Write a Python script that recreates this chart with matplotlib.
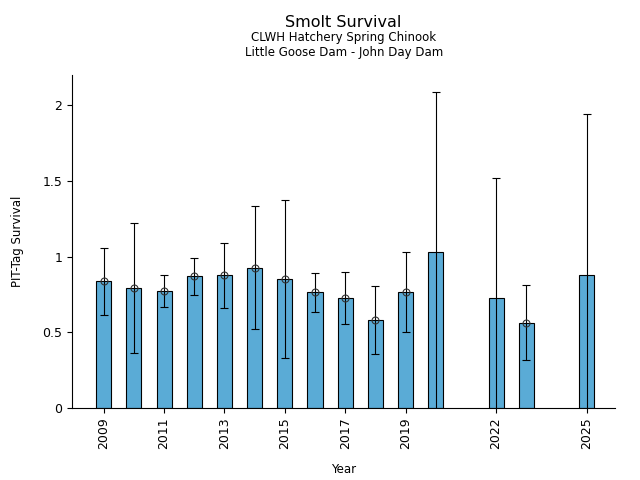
import matplotlib
matplotlib.use('Agg')
import matplotlib.pyplot as plt

# data
years = [2009, 2010, 2011, 2012, 2013, 2014, 2015, 2016, 2017, 2018, 2019, 2020, 2022, 2023, 2025]
survival = [0.836, 0.79, 0.77, 0.871, 0.876, 0.922, 0.849, 0.763, 0.724, 0.579, 0.763, 1.028, 0.724, 0.561, 0.878]
upper = [1.054, 1.219, 0.878, 0.988, 1.087, 1.333, 1.373, 0.889, 0.895, 0.803, 1.028, 2.09, 1.516, 0.81, 1.939]
lower = [0.612, 0.361, 0.665, 0.744, 0.658, 0.519, 0.328, 0.631, 0.552, 0.354, 0.50, -0.034, -0.068, 0.315, -0.18]
has_marker = [True] * 11 + [False, False, True, False]
tick_years = [2009, 2011, 2013, 2015, 2017, 2019, 2022, 2025]

fig = plt.figure(figsize=(6.4, 4.8), dpi=100)
ax = fig.add_axes([0.1125, 0.15, 0.849, 0.694])

ax.bar(years, survival, width=0.5, color='#5aabd6', edgecolor='black', linewidth=0.8, zorder=2)

yerr = [[s - l for s, l in zip(survival, lower)], [u - s for s, u in zip(survival, upper)]]
ax.errorbar(years, survival, yerr=yerr, fmt='none', ecolor='black', elinewidth=0.8,
            capsize=3, capthick=0.8, zorder=3)

mx = [y for y, m in zip(years, has_marker) if m]
my = [s for s, m in zip(survival, has_marker) if m]
ax.plot(mx, my, 'o', markersize=5, markerfacecolor='none', markeredgecolor='#333333',
        markeredgewidth=0.8, zorder=4)

ax.set_xlim(2007.95, 2025.95)
ax.set_ylim(0, 2.2)
ax.set_yticks([0, 0.5, 1, 1.5, 2])
ax.set_yticklabels(['0', '0.5', '1', '1.5', '2'])
ax.set_xticks(tick_years)
ax.set_xticklabels([str(y) for y in tick_years], rotation=90)
ax.tick_params(labelsize=9)
ax.spines['top'].set_visible(False)
ax.spines['right'].set_visible(False)

ax.set_xlabel('Year', fontsize=8.5, labelpad=10)
ax.set_ylabel('PIT-Tag Survival', fontsize=8.5, labelpad=13)

fig.text(0.537, 0.953, 'Smolt Survival', ha='center', va='center', fontsize=11.5)
fig.text(0.537, 0.921, 'CLWH Hatchery Spring Chinook', ha='center', va='center', fontsize=8.5)
fig.text(0.537, 0.891, 'Little Goose Dam - John Day Dam', ha='center', va='center', fontsize=8.5)

fig.savefig('out.png', dpi=100)
